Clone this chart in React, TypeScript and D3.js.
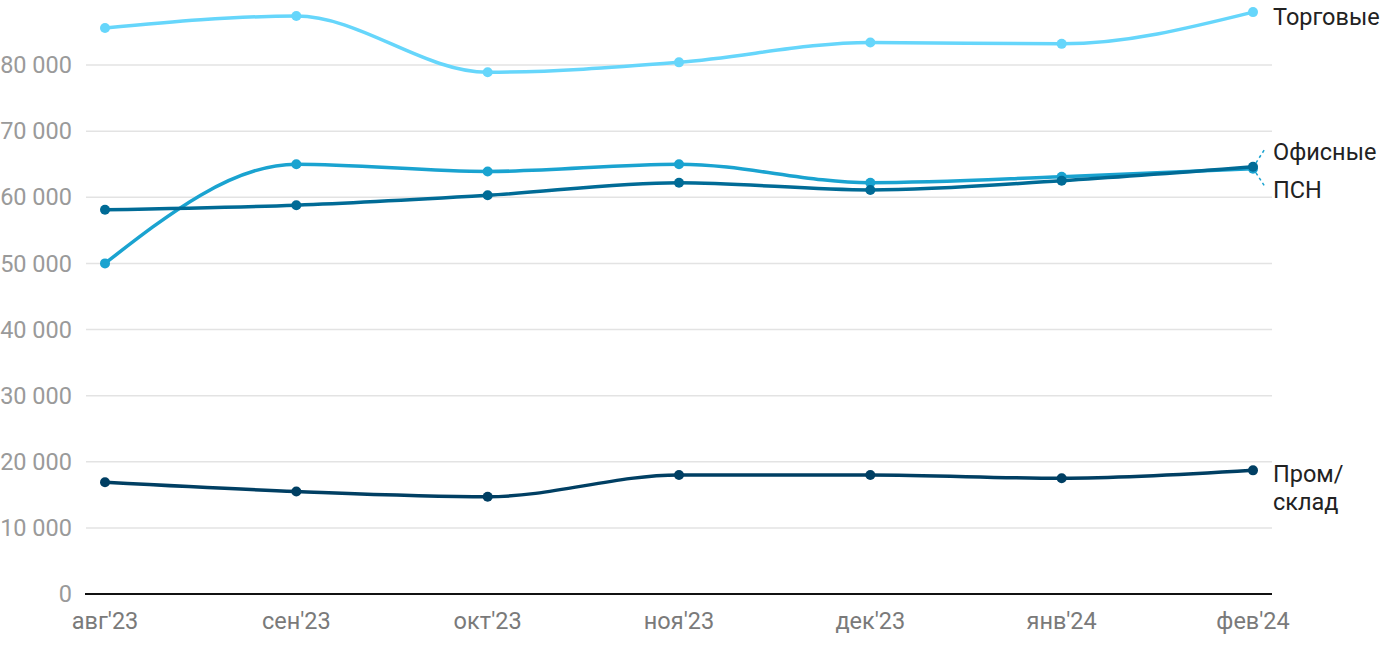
import React from "react";
import * as d3 from "d3";

const months = ["авг'23", "сен'23", "окт'23", "ноя'23", "дек'23", "янв'24", "фев'24"];
const trade = [85600, 87400, 78900, 80400, 83400, 83200, 88000];
const office = [50000, 65000, 63900, 65000, 62200, 63100, 64300];
const psn = [58100, 58800, 60300, 62200, 61100, 62500, 64600];
const industrial = [16900, 15500, 14700, 18000, 18000, 17500, 18700];
const yTicks = [0, 10000, 20000, 30000, 40000, 50000, 60000, 70000, 80000];

const series = [
  { name: "Торговые", values: trade, color: "#66d6fb" },
  { name: "Офисные", values: office, color: "#1aa3d0" },
  { name: "ПСН", values: psn, color: "#006b96" },
  { name: "Пром/склад", values: industrial, color: "#003f63" },
];

const W = 1400, H = 650;
const left = 86, right = 1272;

export default function App() {
  const x = d3.scalePoint<string>().domain(months).range([105, 1253]);
  const y = d3.scaleLinear().domain([0, 80000]).range([594, 65]);
  const line = d3
    .line<number>()
    .x((_, i) => x(months[i]) as number)
    .y((d) => y(d))
    .curve(d3.curveMonotoneX);
  const fmt = (v: number) => d3.format(",")(v).replace(/,/g, " ");
  const lastX = x(months[months.length - 1]) as number;
  const font = "Roboto, sans-serif";

  return (
    <svg width={W} height={H} style={{ position: "absolute", left: 0, top: 0 }} fontFamily={font}>
      {yTicks.map((t) => (
        <g key={t}>
          {t > 0 && <line x1={left} x2={right} y1={y(t)} y2={y(t)} stroke="#e3e3e3" strokeWidth={1.5} />}
          <text x={72} y={y(t)} dy="0.35em" textAnchor="end" fontSize={23.5} fill="#9a9a9a">
            {fmt(t)}
          </text>
        </g>
      ))}
      <line x1={left - 1} x2={right} y1={y(0)} y2={y(0)} stroke="#111" strokeWidth={2} />
      {months.map((m) => (
        <text key={m} x={x(m)} y={629} textAnchor="middle" fontSize={23.5} fill="#7a7a7a">
          {m}
        </text>
      ))}
      {series.map((s) => (
        <g key={s.name}>
          <path d={line(s.values) || ""} fill="none" stroke={s.color} strokeWidth={3.5} />
          {s.values.map((v, i) => (
            <circle key={i} cx={x(months[i])} cy={y(v)} r={5} fill={s.color} />
          ))}
        </g>
      ))}
      <line x1={lastX + 3} y1={y(office[6]) - 6} x2={lastX + 12} y2={y(office[6]) - 20} stroke="#1aa3d0" strokeWidth={1.5} strokeDasharray="3,3" />
      <line x1={lastX + 3} y1={y(psn[6]) + 6} x2={lastX + 12} y2={y(psn[6]) + 20} stroke="#1aa3d0" strokeWidth={1.5} strokeDasharray="3,3" />
      <g fontSize={23.5} fill="#222">
        <text x={1273} y={17} dy="0.35em">Торговые</text>
        <text x={1273} y={152} dy="0.35em">Офисные</text>
        <text x={1273} y={190} dy="0.35em">ПСН</text>
        <text x={1273} y={474} dy="0.35em">Пром/</text>
        <text x={1273} y={502} dy="0.35em">склад</text>
      </g>
    </svg>
  );
}
